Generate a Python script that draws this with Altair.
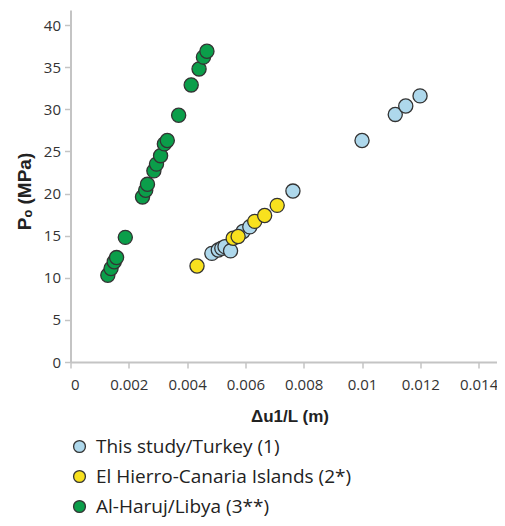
import altair as alt
import pandas as pd

turkey_x = [0.00485, 0.00507, 0.00519, 0.0053, 0.00549, 0.00592, 0.00615, 0.00763, 0.0100, 0.01114, 0.0115, 0.01199]
turkey_y = [12.9, 13.3, 13.5, 13.7, 13.2, 15.5, 16.05, 20.3, 26.3, 29.4, 30.4, 31.6]

hierro_x = [0.00434, 0.00558, 0.00575, 0.00632, 0.00666, 0.00709]
hierro_y = [11.4, 14.7, 14.9, 16.7, 17.4, 18.6]

libya_x = [0.00128, 0.00139, 0.0015, 0.00158, 0.00188, 0.00247, 0.00258, 0.00264, 0.00286,
           0.00295, 0.00309, 0.00322, 0.00332, 0.00371, 0.00414, 0.00441, 0.00456, 0.00468]
libya_y = [10.3, 11.1, 11.9, 12.4, 14.8, 19.6, 20.4, 21.1, 22.7,
           23.5, 24.5, 25.9, 26.3, 29.3, 32.9, 34.8, 36.2, 36.9]

series = ["This study/Turkey (1)", "El Hierro-Canaria Islands (2*)", "Al-Haruj/Libya (3**)"]
colors = ["#aed8ec", "#f8e11e", "#0b9e4a"]

rows = []
for name, xs, ys in zip(series, [turkey_x, hierro_x, libya_x], [turkey_y, hierro_y, libya_y]):
    for x, y in zip(xs, ys):
        rows.append({"x": x, "y": y, "series": name})
df = pd.DataFrame(rows)
df["order"] = df["series"].map({s: i for i, s in enumerate(series)})

x_ticks = [0, 0.002, 0.004, 0.006, 0.008, 0.01, 0.012, 0.014]
y_ticks = [0, 5, 10, 15, 20, 25, 30, 35, 40]

chart = alt.Chart(df).mark_point(
    filled=True, shape="circle", size=200, stroke="#333333", strokeWidth=1.3, opacity=1
).encode(
    x=alt.X("x:Q", scale=alt.Scale(domain=[0, 0.01463], nice=False, zero=True),
            axis=alt.Axis(values=x_ticks, format=".3~f", title="Δu1/L (m)", grid=False,
                          domainColor="#c4c4c4", domainWidth=2, tickColor="#c4c4c4",
                          tickSize=6, tickWidth=1.5, labelFontSize=15, labelColor="#333333",
                          labelFont="Open Sans", labelPadding=9, titleFont="Liberation Sans",
                          titleFontSize=17, titleFontWeight="bold", titleColor="#222222",
                          titlePadding=16, titleX=219)),
    y=alt.Y("y:Q", scale=alt.Scale(domain=[0, 41.8], nice=False),
            axis=alt.Axis(values=y_ticks, title="Pₒ (MPa)", grid=False,
                          domainColor="#c4c4c4", domainWidth=2, tickColor="#c4c4c4",
                          tickSize=6, tickWidth=1.5, labelFontSize=15, labelColor="#333333",
                          labelFont="Open Sans", labelPadding=4, titleFont="Liberation Sans",
                          titleFontSize=19, titleFontWeight="bold", titleColor="#222222",
                          titlePadding=9, titleY=181)),
    color=alt.Color("series:N", scale=alt.Scale(domain=series, range=colors),
                    legend=alt.Legend(title=None, orient="none", legendX=-0.5, legendY=427,
                                      direction="vertical", symbolSize=140, symbolStrokeColor="#333333",
                                      symbolStrokeWidth=1.3, labelFont="Open Sans", labelFontSize=19,
                                      labelColor="#222222", labelOffset=7, rowPadding=10,
                                      labelLimit=400, symbolType="circle")),
    order=alt.Order("order:Q"),
).properties(
    width=426.5, height=352,
    autosize=alt.AutoSizeParams(type="none"),
    padding={"left": 62.5, "top": 2, "right": 0, "bottom": 156},
).configure_view(stroke=None)

chart.save("out.html", embed_options={"renderer": "svg", "actions": False})
